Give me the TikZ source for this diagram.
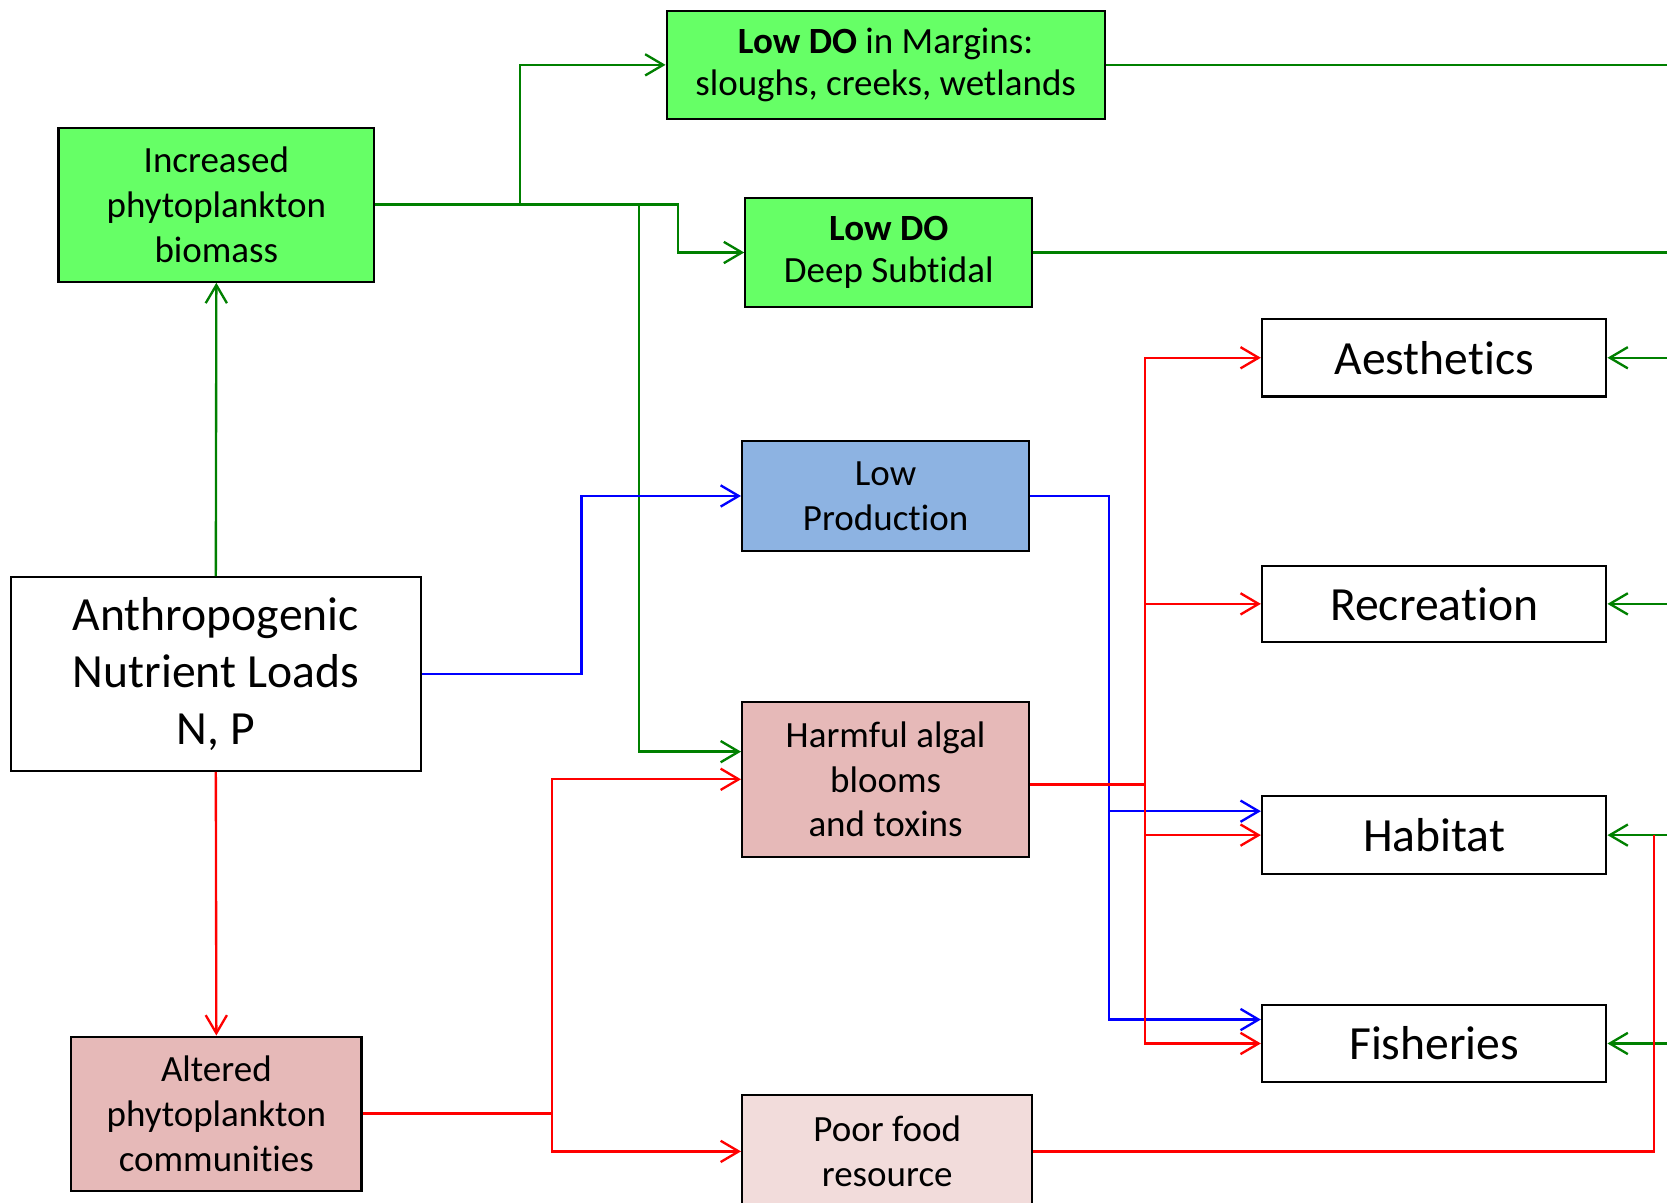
\documentclass[tikz,border=0pt]{standalone}
\usepackage{fontspec}
\setmainfont{Carlito}[Ligatures=NoCommon]
\usetikzlibrary{arrows.meta,calc}
\definecolor{boxgreen}{HTML}{66FF66}
\definecolor{boxblue}{HTML}{8DB3E2}
\definecolor{boxrose}{HTML}{E6B9B8}
\definecolor{boxpink}{HTML}{F2DCDB}
\definecolor{lgreen}{RGB}{0,128,0}
\definecolor{lred}{RGB}{255,0,0}
\definecolor{lblue}{RGB}{0,0,255}
\newcommand\fsmall{\fontsize{17.4}{21}\selectfont}
\newcommand\flarge{\fontsize{22.4}{26.8}\selectfont}
\tikzset{
  box/.style={draw=black, line width=1pt, inner sep=0pt, align=center, rectangle},
  smallbox/.style={box, font=\fsmall},
  largebox/.style={box, font=\flarge},
  conn/.style={line width=1.1pt},
  gline/.style={conn, draw=lgreen},
  rline/.style={conn, draw=lred},
  bline/.style={conn, draw=lblue},
  tip/.style={-{Straight Barb[length=8.5pt,width=10pt]}},
}
\begin{document}
\begin{tikzpicture}[x=0.5pt,y=-0.5pt]
\useasboundingbox (0,0) rectangle (1568,1131);
\clip (0,0) rectangle (1568,1131);
\fill[white] (0,0) rectangle (1568,1131);

% boxes
\node[smallbox, fill=boxgreen, minimum width=206pt, minimum height=51pt] (lowdom) at (833,61)
  {\raisebox{-1.5pt}{\textbf{Low DO} in Margins:}\\sloughs, creeks, wetlands};
\node[smallbox, fill=boxgreen, minimum width=148.5pt, minimum height=72.5pt] (inc) at (203.5,192.5)
  {Increased\\phytoplankton\\biomass};
\node[smallbox, fill=boxgreen, minimum width=135pt, minimum height=51.5pt] (lowdods) at (836,237.5)
  {\raisebox{-1pt}{\textbf{Low DO}}\\Deep Subtidal};
\node[largebox, fill=white, minimum width=162pt, minimum height=36.5pt] (aest) at (1349,336.5) {Aesthetics};
\node[smallbox, fill=boxblue, minimum width=135pt, minimum height=51.5pt] (lowprod) at (833,466.5)
  {Low\\Production};
\node[largebox, fill=white, minimum width=162pt, minimum height=36pt] (recr) at (1349,568) {Recreation};
\node[largebox, fill=white, minimum width=193pt, minimum height=91pt] (anthro) at (203,634)
  {Anthropogenic\\Nutrient Loads\\N, P};
\node[smallbox, fill=boxrose, minimum width=135pt, minimum height=73pt] (hab) at (833,733)
  {Harmful algal\\blooms\\and toxins};
\node[largebox, fill=white, minimum width=162pt, minimum height=36.5pt] (habitat) at (1349,785.5) {Habitat};
\node[largebox, fill=white, minimum width=162pt, minimum height=36.5pt] (fish) at (1349,981.5) {Fisheries};
\node[smallbox, fill=boxrose, minimum width=136.5pt, minimum height=72.5pt] (altered) at (203.5,1047.5)
  {Altered\\phytoplankton\\communities};
\node[smallbox, fill=boxpink, minimum width=136.5pt, minimum height=53pt] (poor) at (834.5,1083)
  {Poor food\\resource};

% junction and edge coordinates
\coordinate (gA) at (489,192.5);
\coordinate (gB) at (638,192.5);
\coordinate (gC) at (601,192.5);
\coordinate (bA) at (547,634);
\coordinate (bB) at (1043,763);
\coordinate (rA) at (1077,738);
\coordinate (rB) at (519,1047.5);
\coordinate (rC) at (1556,785.5);
\coordinate (eDOM) at (1580,61);
\coordinate (eDODS) at (1580,237.5);
\coordinate (eAest) at (1580,336.5);
\coordinate (eRecr) at (1580,568);
\coordinate (eHabitat) at (1580,785.5);
\coordinate (eFish) at (1580,981.5);

% green: phytoplankton biomass and low dissolved oxygen
\draw[gline,tip] (anthro.north) -- (inc.south);
\draw[gline,tip] (inc.east) -- (gA) |- (lowdom.west);
\draw[gline,tip] (inc.east) -- (gB) |- (lowdods.west);
\draw[gline,tip] (gC) |- ($(hab.west)+(0,-26)$);
\draw[gline] (lowdom.east) -- (eDOM);
\draw[gline] (lowdods.east) -- (eDODS);
\draw[gline,tip] (eAest) -- (aest.east);
\draw[gline,tip] (eRecr) -- (recr.east);
\draw[gline,tip] (eHabitat) -- (habitat.east);
\draw[gline,tip] (eFish) -- (fish.east);

% blue: low production
\draw[bline,tip] (anthro.east) -- (bA) |- (lowprod.west);
\draw[bline,tip] (lowprod.east) -| (bB) -- ($(habitat.west)+(0,-22.5)$);
\draw[bline,tip] (bB) |- ($(fish.west)+(0,-22.5)$);

% red: altered communities, blooms and food resource
\draw[rline,tip] (anthro.south) -- (altered.north);
\draw[rline,tip] (altered.east) -- (rB) |- (hab.west);
\draw[rline,tip] (rB) |- (poor.west);
\draw[rline] ($(hab.east)+(0,5)$) -- (rA);
\draw[rline,tip] (rA) |- (aest.west);
\draw[rline,tip] (rA) |- (recr.west);
\draw[rline,tip] (rA) |- (habitat.west);
\draw[rline,tip] (rA) |- (fish.west);
\draw[rline] (poor.east) -| (rC);
\end{tikzpicture}
\end{document}
